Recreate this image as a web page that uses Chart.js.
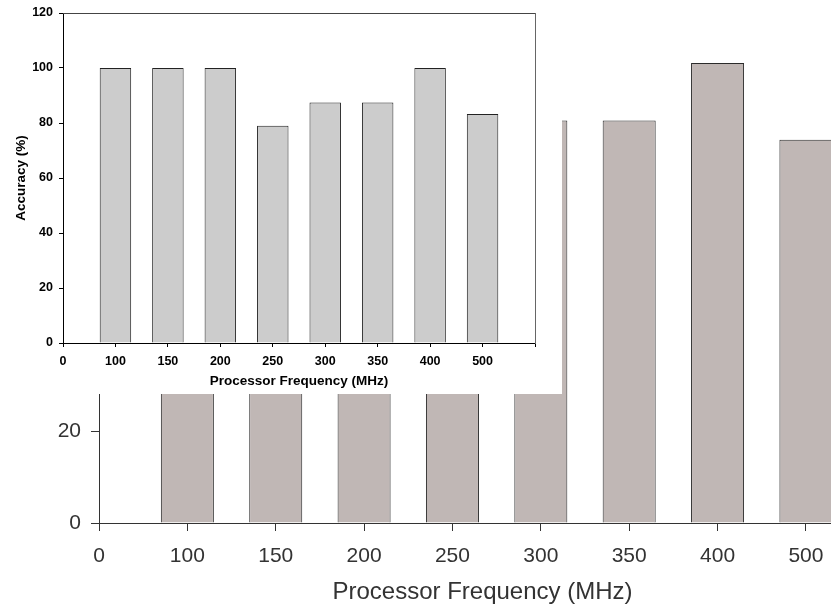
<!DOCTYPE html>
<html><head><meta charset="utf-8">
<script src="https://cdn.jsdelivr.net/npm/chart.js@4"></script>
<style>
html,body{margin:0;padding:0;background:#fff;overflow:hidden;width:831px;height:607px;position:relative;}
#bgWrap{position:absolute;left:0;top:0;width:900px;height:607px;}
#insetWrap{position:absolute;left:0;top:0;width:562px;height:394px;background:#fff;}
canvas{display:block;}
</style></head><body>
<div id="bgWrap"><canvas id="bg" width="900" height="607"></canvas></div>
<div id="insetWrap"><canvas id="inset" width="562" height="394"></canvas></div>
<script>
// ---- data ----
const tickLabels = ['0','100','150','200','250','300','350','400','500'];
const frequencies = ['100','150','200','250','300','350','400','500'];
const accuracy = [100, 100, 100, 79, 87.5, 87.5, 100, 83.3];
const xTitle = 'Processor Frequency (MHz)';
const yTitle = 'Accuracy (%)';

Chart.defaults.font.family = '"Liberation Sans", Arial, Helvetica, sans-serif';

const points = frequencies.map((f, i) => ({x: tickLabels.indexOf(f), y: accuracy[i]}));
const labelFor = v => (Number.isInteger(v) && tickLabels[v] !== undefined) ? tickLabels[v] : '';

// ---- background (large) chart ----
new Chart(document.getElementById('bg'), {
  type: 'bar',
  data: {datasets: [{
    data: points,
    backgroundColor: '#c0b7b5',
    borderColor: '#2b2b2b',
    borderWidth: 1,
    barPercentage: 0.6,
    categoryPercentage: 1
  }]},
  options: {
    responsive: false, animation: false,
    layout: {padding: {left: 0, top: 0, right: 34, bottom: 0}},
    plugins: {legend: {display: false}, tooltip: {enabled: false}},
    scales: {
      x: {
        type: 'linear', min: 0, max: 8.68, offset: false,
        ticks: {stepSize: 1, includeBounds: false, autoSkip: false, maxRotation: 0, padding: 13,
          color: '#333', font: {size: 21}, callback: labelFor},
        grid: {display: true, offset: false, drawOnChartArea: false, drawTicks: true, tickLength: 8, color: '#333', lineWidth: 1},
        border: {display: true, color: '#333', width: 1},
        title: {display: true, text: xTitle, color: '#333', font: {size: 24}, padding: {top: 0, bottom: 0}},
        afterFit: s => { s.height = 84; s.paddingLeft = 0; s.paddingRight = 0; }
      },
      y: {
        min: 0, max: 113.7,
        ticks: {stepSize: 20, includeBounds: false, padding: 10, color: '#333', font: {size: 21}},
        grid: {display: true, drawOnChartArea: false, drawTicks: true, tickLength: 8, color: '#333'},
        border: {display: true, color: '#333', width: 1},
        afterFit: s => { s.width = 99; s.paddingTop = 0; s.paddingBottom = 0; }
      }
    }
  }
});

// ---- inset chart ----
new Chart(document.getElementById('inset'), {
  type: 'bar',
  data: {datasets: [{
    data: points,
    backgroundColor: '#cccccc',
    borderColor: '#222',
    borderWidth: 1,
    barPercentage: 0.6,
    categoryPercentage: 1
  }]},
  options: {
    responsive: false, animation: false,
    layout: {padding: {left: 0, top: 13, right: 27, bottom: 0}},
    plugins: {legend: {display: false}, tooltip: {enabled: false}},
    scales: {
      x: {
        type: 'linear', min: 0, max: 9, offset: false,
        ticks: {stepSize: 1, autoSkip: false, maxRotation: 0, padding: 7,
          color: '#000', font: {size: 12.5, weight: 'bold'}, callback: labelFor},
        grid: {display: true, offset: false, drawOnChartArea: false, drawTicks: true, tickLength: 4, color: '#000'},
        border: {display: true, color: '#000', width: 1},
        title: {display: true, text: xTitle, color: '#000', font: {size: 13.5, weight: 'bold'}, padding: {top: 0, bottom: 5}},
        afterFit: s => { s.height = 51; s.paddingLeft = 0; s.paddingRight = 0; }
      },
      y: {
        min: 0, max: 120,
        ticks: {stepSize: 20, padding: 6, color: '#000', font: {size: 12.5, weight: 'bold'}},
        grid: {display: true, drawOnChartArea: false, drawTicks: true, tickLength: 4, color: '#000'},
        border: {display: true, color: '#000', width: 1},
        title: {display: true, text: yTitle, color: '#000', font: {size: 13.5, weight: 'bold'}, padding: {top: 13, bottom: 0}},
        afterFit: s => { s.width = 63; s.paddingTop = 0; s.paddingBottom = 0; }
      },
      x2: {
        type: 'linear', position: 'top', min: 0, max: 9,
        ticks: {display: false},
        grid: {display: true, drawOnChartArea: false, drawTicks: false},
        border: {display: true, color: '#444', width: 1},
        afterFit: s => { s.height = 0; }
      },
      y2: {
        type: 'linear', position: 'right', min: 0, max: 120,
        ticks: {display: false},
        grid: {display: true, drawOnChartArea: false, drawTicks: false},
        border: {display: true, color: '#666', width: 1},
        afterFit: s => { s.width = 0; }
      }
    }
  }
});
</script>
</body></html>
